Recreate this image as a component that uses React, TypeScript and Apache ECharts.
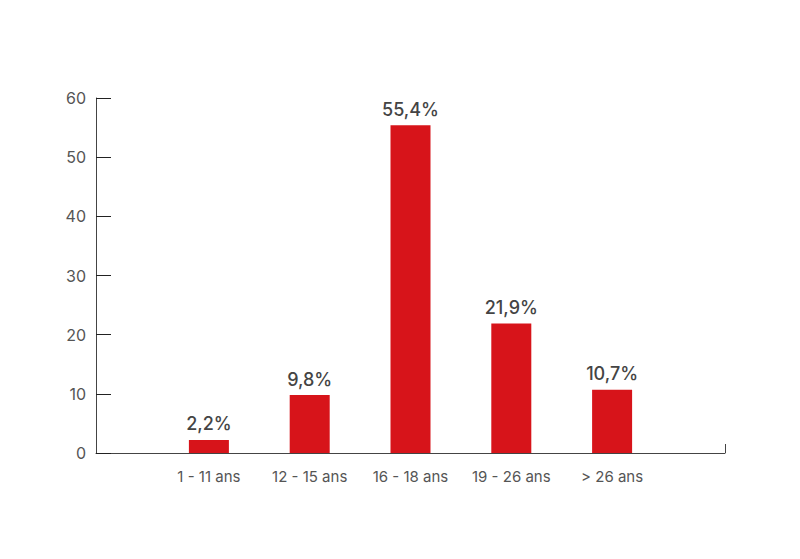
import * as echarts from 'echarts';
import React, { useEffect, useRef } from 'react';

const categories = ['1-11 ans', '12-15 ans', '16-18 ans', '19-26 ans', '> 26 ans'];
const shares = [2.2, 9.8, 55.4, 21.9, 10.7];
const yTicks = [0, 10, 20, 30, 40, 50, 60];

const App: React.FC = () => {
  const ref = useRef<HTMLDivElement>(null);
  const chart = useRef<echarts.ECharts>();

  useEffect(() => {
    chart.current = echarts.init(ref.current, null, { renderer: 'svg' });
    const positions = categories.map((_, i) => i);
    chart.current.setOption({
      animation: false,
      textStyle: { fontFamily: 'Inter' },
      grid: { left: 88, right: 67, top: 90, bottom: 98, containLabel: false },
      xAxis: {
        type: 'value',
        min: -1.12,
        max: 4 + 1.12,
        splitLine: { show: false },
        axisLine: { show: true, lineStyle: { color: '#444', width: 1 } },
        axisTick: {
          show: true,
          inside: true,
          length: 9,
          customValues: [4 + 1.12],
          lineStyle: { color: '#444' },
        },
        axisLabel: {
          customValues: positions,
          formatter: (v: number) => (categories[Math.round(v)] ?? '').replace('-', ' - '),
          color: '#555',
          fontSize: 15,
          margin: 16,
        },
      },
      yAxis: {
        type: 'value',
        min: 0,
        max: yTicks[yTicks.length - 1],
        interval: 10,
        splitLine: { show: false },
        axisLine: { show: true, onZero: false, lineStyle: { color: '#444', width: 1 } },
        axisTick: { show: true, inside: true, length: 15, lineStyle: { color: '#222' } },
        axisLabel: { color: '#555', fontSize: 16, margin: 10 },
      },
      series: [
        {
          type: 'bar',
          barWidth: 40,
          data: shares.map((v, i) => [i, v]),
          itemStyle: { color: '#d7141a' },
          label: {
            show: true,
            position: 'top',
            distance: 7,
            color: '#444',
            fontSize: 18,
            fontWeight: 500,
            formatter: (p: any) => String(p.value[1]).replace('.', ',') + '%',
          },
        },
      ],
    });

    return () => {
      chart.current?.dispose();
    };
  }, []);

  return <div ref={ref} style={{ width: 784, height: 543 }}></div>;
};

export default App;
